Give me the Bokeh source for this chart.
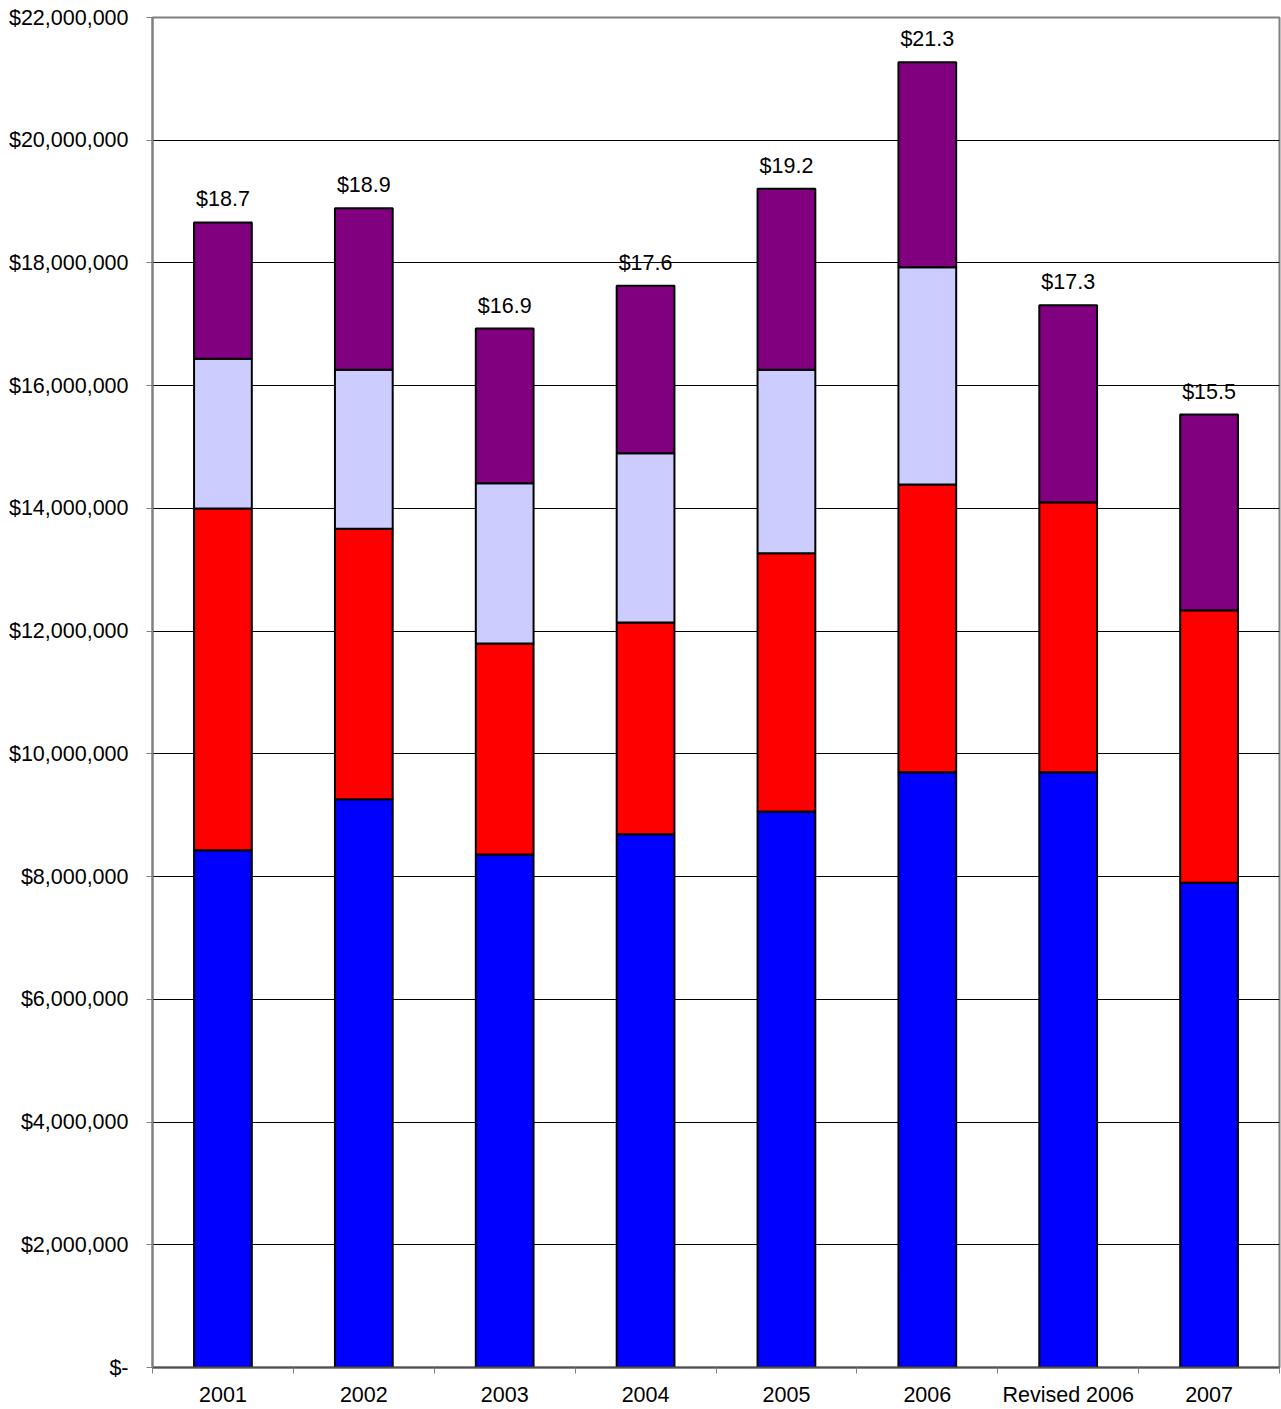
from bokeh.plotting import figure
from bokeh.models import ColumnDataSource, FixedTicker, NumeralTickFormatter, LabelSet, Range1d
from bokeh.core.properties import value
from bokeh.embed import file_html
from bokeh.resources import INLINE

categories = ["2001", "2002", "2003", "2004", "2005", "2006", "Revised 2006", "2007"]
blue_part = [8.43e6, 9.26e6, 8.36e6, 8.69e6, 9.06e6, 9.70e6, 9.70e6, 7.90e6]
red_part = [5.57e6, 4.41e6, 3.44e6, 3.45e6, 4.21e6, 4.69e6, 4.40e6, 4.44e6]
lavender_part = [2.44e6, 2.59e6, 2.61e6, 2.76e6, 2.99e6, 3.54e6, 0.0, 0.0]
purple_part = [2.22e6, 2.63e6, 2.52e6, 2.73e6, 2.95e6, 3.34e6, 3.21e6, 3.19e6]
y_ticks = [0, 2e6, 4e6, 6e6, 8e6, 10e6, 12e6, 14e6, 16e6, 18e6, 20e6, 22e6]

stackers = ["blue_part", "red_part", "lavender_part", "purple_part"]
colors = ["#0000FF", "#FF0000", "#CCCCFF", "#800080"]

x_pos = [i + 0.5 for i in range(len(categories))]
totals = [b + r + l + p for b, r, l, p in zip(blue_part, red_part, lavender_part, purple_part)]
labels = ["$%.1f" % (t / 1e6) for t in totals]

src = ColumnDataSource(dict(
    x=x_pos, blue_part=blue_part, red_part=red_part,
    lavender_part=lavender_part, purple_part=purple_part,
    total=totals, label=labels,
))

FONT = "Liberation Sans"
FS = "21.5px"

p = figure(width=1281, height=1409, output_backend="svg", toolbar_location=None,
           x_range=Range1d(0, len(categories)), y_range=Range1d(0, 22e6),
           min_border_left=152, min_border_right=2, min_border_top=17, min_border_bottom=42)
p.background_fill_color = "white"
p.border_fill_color = "white"
p.outline_line_color = "#808080"
p.outline_line_width = 2

p.vbar_stack(stackers, x="x", width=0.41, color=colors, line_color="black",
             line_width=2, source=src)

lbl = LabelSet(x="x", y="total", text="label", source=src, text_align="center",
               text_baseline="alphabetic", y_offset=16, text_font=value(FONT),
               text_font_size=value(FS), text_color="black")
p.add_layout(lbl)

# y axis
p.yaxis.ticker = FixedTicker(ticks=y_ticks)
p.yaxis.formatter = NumeralTickFormatter(format="$0,0")
p.yaxis.major_label_overrides = {0: "$-"}
p.yaxis.major_label_text_font = FONT
p.yaxis.major_label_text_font_size = FS
p.yaxis.major_label_text_color = "black"
p.yaxis.axis_line_color = "#808080"
p.yaxis.axis_line_width = 2
p.yaxis.major_tick_line_color = "#808080"
p.yaxis.major_tick_out = 6
p.yaxis.major_tick_in = 0
p.yaxis.minor_tick_line_color = None
p.yaxis.major_label_standoff = 18

p.ygrid.ticker = FixedTicker(ticks=y_ticks[1:-1])
p.ygrid.grid_line_color = "black"
p.ygrid.grid_line_width = 1
p.xgrid.visible = False

# x axis: labels at category centres, tick marks at category boundaries
p.xaxis.ticker = FixedTicker(ticks=x_pos, minor_ticks=list(range(len(categories) + 1)))
p.xaxis.major_label_overrides = {x: c for x, c in zip(x_pos, categories)}
p.xaxis.major_label_text_font = FONT
p.xaxis.major_label_text_font_size = FS
p.xaxis.major_label_text_color = "black"
p.xaxis.axis_line_color = "#505050"
p.xaxis.axis_line_width = 2
p.xaxis.major_tick_out = 0
p.xaxis.major_tick_in = 0
p.xaxis.minor_tick_out = 6
p.xaxis.minor_tick_in = 0
p.xaxis.minor_tick_line_color = "#808080"
p.xaxis.major_label_standoff = 9

open("out.html", "w").write(file_html(p, INLINE))
